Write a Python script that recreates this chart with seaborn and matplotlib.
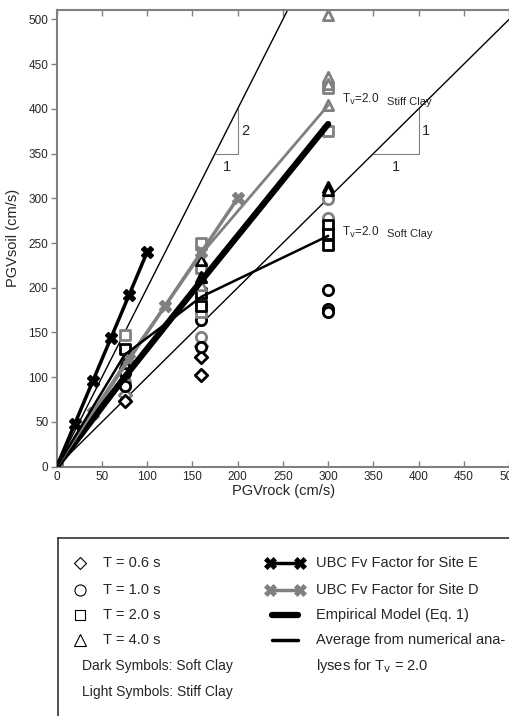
import matplotlib
matplotlib.use("Agg")
import matplotlib.pyplot as plt
import seaborn as sns
import pandas as pd
import numpy as np
from matplotlib.lines import Line2D
from matplotlib.patches import Rectangle

sns.set_theme(style="white")
plt.rcParams['font.family'] = ['Liberation Sans', 'DejaVu Sans']

# ---- data ----
# Scatter points (PGVrock, PGVsoil)
d06_soft_x = [75, 160, 160]
d06_soft_y = [73, 123, 102]
d06_stiff_x = [75, 160]
d06_stiff_y = [80, 135]

c10_soft_x = [75, 75, 160, 160, 300, 300, 300]
c10_soft_y = [90, 105, 164, 134, 198, 176, 173]
c10_stiff_x = [75, 160, 300, 300]
c10_stiff_y = [95, 145, 299, 278]

s20_soft_x = [75, 160, 160, 300, 300, 300]
s20_soft_y = [132, 194, 180, 270, 260, 248]
s20_stiff_x = [75, 160, 160, 160, 160, 300, 300]
s20_stiff_y = [147, 250, 222, 186, 173, 423, 375]

t40_soft_x = [75, 160, 160, 300, 300]
t40_soft_y = [116, 231, 212, 313, 309]
t40_stiff_x = [75, 160, 300, 300, 300, 300]
t40_stiff_y = [121, 203, 505, 436, 428, 404]

# Lines
ubcE_x = [0, 20, 40, 60, 80, 100]
ubcE_y = [0, 48, 96, 144, 192, 240]
ubcD_x = [0, 40, 80, 120, 160, 200]
ubcD_y = [0, 60, 120, 180, 240, 300]
emp_x = [0, 75, 160, 300]
emp_y = [0, 100, 208, 383]
avg_stiff_x = [0, 75, 160, 300]
avg_stiff_y = [0, 115, 238, 404]
avg_soft_x = [0, 75, 160, 300]
avg_soft_y = [0, 125, 190, 258]
ref21_x = [0, 260]
ref21_y = [0, 520]
ref11_x = [0, 520]
ref11_y = [0, 520]

xticks = [0, 50, 100, 150, 200, 250, 300, 350, 400, 450, 500]
yticks = [0, 50, 100, 150, 200, 250, 300, 350, 400, 450, 500]

GRAY = '#808080'
W, H = 509, 716
fig = plt.figure(figsize=(W / 100, H / 100), dpi=100)
ax = fig.add_axes([56.7 / W, 1 - 466.7 / H, (510 - 56.7) / W, (466.7 - 9.7) / H])

def line(x, y, color, lw, marker=None, ms=7, mew=2, z=3):
    df = pd.DataFrame({'x': x, 'y': y})
    sns.lineplot(data=df, x='x', y='y', ax=ax, color=color, lw=lw, marker=marker,
                 markersize=ms, markeredgewidth=mew, markeredgecolor=color,
                 sort=False, estimator=None, zorder=z, legend=False)

# reference lines
line(ref21_x, ref21_y, 'black', 1.0, z=2)
line(ref11_x, ref11_y, 'black', 1.0, z=2)

def pts(x, y, marker, color, s=55):
    df = pd.DataFrame({'x': x, 'y': y})
    sns.scatterplot(data=df, x='x', y='y', ax=ax, marker=marker, s=s,
                    facecolor='white', edgecolor=color, linewidth=2, zorder=4,
                    legend=False)

pts(d06_stiff_x, d06_stiff_y, 'D', GRAY, 40)
pts(d06_soft_x, d06_soft_y, 'D', 'black', 40)
pts(c10_stiff_x, c10_stiff_y, 'o', GRAY)
pts(c10_soft_x, c10_soft_y, 'o', 'black')
pts(s20_stiff_x, s20_stiff_y, 's', GRAY, 45)
pts(s20_soft_x, s20_soft_y, 's', 'black', 45)
pts(t40_stiff_x, t40_stiff_y, '^', GRAY)
pts(t40_soft_x, t40_soft_y, '^', 'black')

line(ubcE_x, ubcE_y, 'black', 2.5, marker='X', ms=8, mew=1, z=5)
line(ubcD_x, ubcD_y, GRAY, 2.5, marker='X', ms=8, mew=1, z=5)
line(emp_x, emp_y, 'black', 4.5, z=5)
line(avg_stiff_x, avg_stiff_y, GRAY, 2.0, z=5)
line(avg_soft_x, avg_soft_y, 'black', 1.8, z=5)

# slope triangles
ax.plot([175, 200], [350, 350], color=GRAY, lw=0.8, zorder=2)
ax.plot([200, 200], [350, 400], color=GRAY, lw=0.8, zorder=2)
ax.text(204, 375, '2', fontsize=10.5, va='center', ha='left')
ax.text(188, 343, '1', fontsize=10.5, va='top', ha='center')
ax.plot([350, 400], [350, 350], color=GRAY, lw=0.8, zorder=2)
ax.plot([400, 400], [350, 400], color=GRAY, lw=0.8, zorder=2)
ax.text(404, 375, '1', fontsize=10.5, va='center', ha='left')
ax.text(375, 343, '1', fontsize=10.5, va='top', ha='center')

# annotations
ax.text(315, 410, r'T$_{\rm v}$=2.0', fontsize=8.5, va='center', ha='left')
ax.text(365, 408, 'Stiff Clay', fontsize=8, va='center', ha='left')
ax.text(315, 262, r'T$_{\rm v}$=2.0', fontsize=8.5, va='center', ha='left')
ax.text(365, 260, 'Soft Clay', fontsize=8, va='center', ha='left')

ax.set_xlim(0, 501)
ax.set_ylim(0, 510.8)
ax.set_xticks(xticks)
ax.set_yticks(yticks)
ax.set_xticklabels([str(v) for v in xticks], fontsize=8.5)
ax.set_yticklabels([str(v) for v in yticks], fontsize=8.5)
ax.tick_params(axis='x', direction='in', length=4, width=1, color=GRAY, top=True, bottom=True, pad=3)
ax.tick_params(axis='y', direction='out', length=4, width=1, color=GRAY, left=True, right=True, pad=2)
ax.set_xlabel('PGVrock (cm/s)', fontsize=10.5, labelpad=1)
ax.set_ylabel('PGVsoil (cm/s)', fontsize=10.5, labelpad=6)
for sp in ax.spines.values():
    sp.set_color(GRAY)
    sp.set_linewidth(1.5)
ax.spines['right'].set_visible(False)

# ---- legend box ----
lax = fig.add_axes([58 / W, -0.05, 1.0, 1 - 538 / H + 0.05])
lax.set_xlim(58, 58 + W)
lax.set_ylim(716 + 0.05 * H, 538)
lax.set_xticks([])
lax.set_yticks([])
lax.set_facecolor('none')
for k, sp in lax.spines.items():
    sp.set_color('#333333')
    sp.set_linewidth(1.2)
lax.spines['right'].set_visible(False)
lax.spines['bottom'].set_visible(False)

rows = [563, 590, 615, 640]
sym = [('D', 6), ('o', 8), ('s', 6.5), ('^', 8)]
labs = ['T = 0.6 s', 'T = 1.0 s', 'T = 2.0 s', 'T = 4.0 s']
for (m, ms), lab, yy in zip(sym, labs, rows):
    lax.plot([80], [yy], marker=m, ms=ms, mfc='white', mec='black', mew=0.8, ls='none')
    lax.text(103, yy, lab, fontsize=10.5, va='center', ha='left')
lax.text(82, 666.5, 'Dark Symbols: Soft Clay', fontsize=10, va='center', ha='left')
lax.text(82, 692.5, 'Light Symbols: Stiff Clay', fontsize=10, va='center', ha='left')

lax.plot([270, 300], [563, 563], color='black', lw=2.5, marker='X', ms=8, mew=0.5, markevery=[0, 1])
lax.plot([270, 300], [590, 590], color=GRAY, lw=2.5, marker='X', ms=8, mew=0.5, markevery=[0, 1])
lax.plot([272, 298], [615, 615], color='black', lw=4.5)
lax.plot([272, 298], [640, 640], color='black', lw=2.5)
lax.text(316, 563, 'UBC Fv Factor for Site E', fontsize=10.5, va='center', ha='left')
lax.text(316, 590, 'UBC Fv Factor for Site D', fontsize=10.5, va='center', ha='left')
lax.text(316, 615, 'Empirical Model (Eq. 1)', fontsize=10.5, va='center', ha='left')
lax.text(316, 640, 'Average from numerical ana-', fontsize=10.5, va='center', ha='left')
lax.text(316, 666, r'lyses for T$_{\rm v}$ = 2.0', fontsize=10.5, va='center', ha='left')

fig.savefig('out.png', dpi=100)
